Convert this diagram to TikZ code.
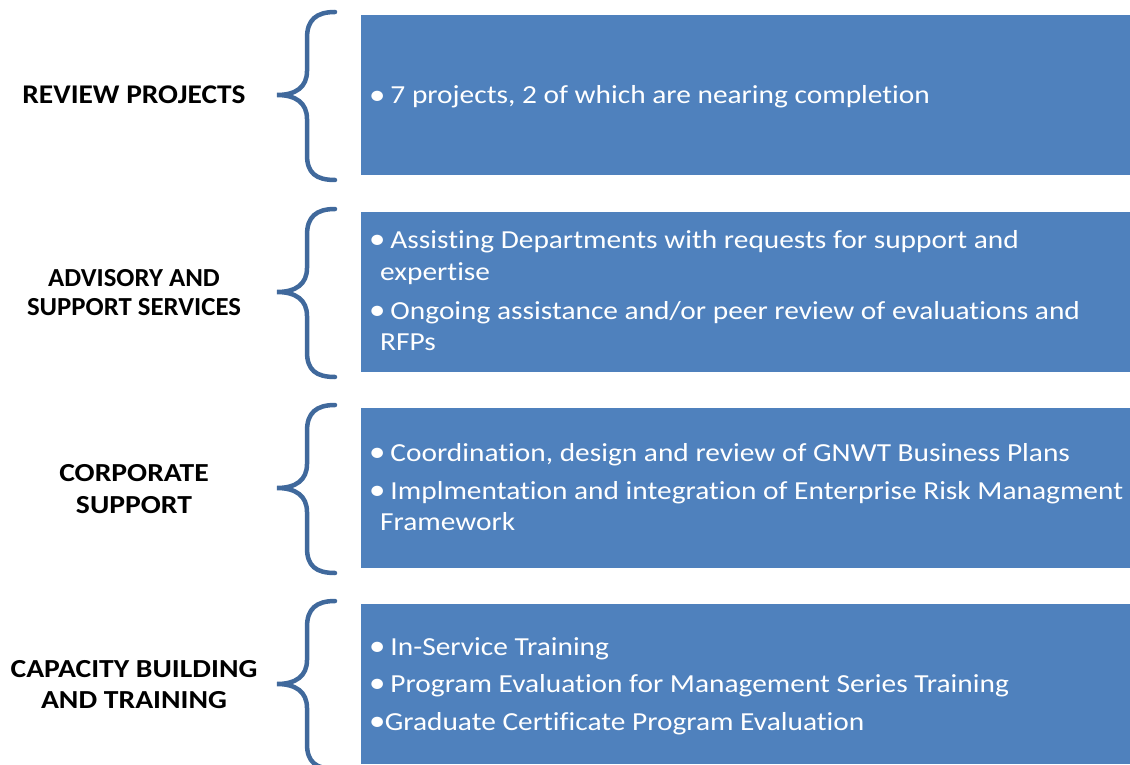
\documentclass[tikz,border=0pt]{standalone}
\usepackage{fontspec}
\setmainfont{Carlito}
\newfontfamily\bodyfont[FakeStretch=1.13,RawFeature=-liga]{Carlito}
\newfontfamily\lblfont[FakeStretch=1.14,RawFeature=-liga]{Carlito}
\newfontfamily\advlblfont[FakeStretch=1.03,RawFeature=-liga]{Carlito}
\newfontfamily\toplblfont[FakeStretch=1.09,RawFeature=-liga]{Carlito}
\newcommand{\bul}{\rlap{\raisebox{-0.6pt}{\fontsize{29}{31}\selectfont •}}\phantom{•}}
\definecolor{boxblue}{HTML}{4F81BD}
\definecolor{bracecol}{HTML}{40699C}
\begin{document}
\begin{tikzpicture}[x=1pt,y=-1pt,
  panel/.style={fill=boxblue,draw=none},
  brace/.style={draw=bracecol,line width=4.5pt,line cap=round},
  bodytxt/.style={anchor=base west,inner sep=0pt,text=white,font=\bodyfont\fontsize{26}{31}\selectfont},
  lbl/.style={anchor=base,inner sep=0pt,font=\lblfont\bfseries\fontsize{26}{31}\selectfont},
  advlbl/.style={anchor=base,inner sep=0pt,font=\advlblfont\bfseries\fontsize{26}{31}\selectfont},
  biglbl/.style={anchor=base,inner sep=0pt,font=\toplblfont\bfseries\fontsize{27}{32}\selectfont}]
\useasboundingbox (0,0) rectangle (1130,765);
% panels
\foreach \t/\n in {15/p1,212/p2,408/p3,604/p4}{
  \fill[panel] (361,\t) rectangle (1132,\t+160);
}
% braces
\foreach \c in {95,292,488,684}{
  \draw[brace] (335,\c-83) .. controls (316,\c-83) and (307,\c-75) .. (307,\c-57)
     -- (307,\c-24) .. controls (307,\c-8) and (296,\c) .. (277,\c)
     .. controls (296,\c) and (307,\c+8) .. (307,\c+24)
     -- (307,\c+60) .. controls (307,\c+78) and (316,\c+85) .. (335,\c+85);
}
% labels
\node[biglbl] (l1) at (134,104) {REVIEW PROJECTS};
\node[advlbl] (l2a) at (134,286) {ADVISORY AND};
\node[advlbl] (l2b) at (134,315) {SUPPORT SERVICES};
\node[lbl] (l3a) at (134,481) {CORPORATE};
\node[lbl] (l3b) at (134,513) {SUPPORT};
\node[lbl] (l4a) at (134,677) {CAPACITY BUILDING};
\node[lbl] (l4b) at (134,708) {AND TRAINING};
% body text
\node[bodytxt] (t1) at (369,104) {\bul{} 7 projects, 2 of which are nearing completion};
\node[bodytxt] (t2a) at (369,248) {\bul{} Assisting Departments with requests for support and};
\node[bodytxt] (t2b) at (380,280) {expertise};
\node[bodytxt] (t2c) at (369,319) {\bul{} Ongoing assistance and/or peer review of evaluations and};
\node[bodytxt] (t2d) at (380,350) {RFPs};
\node[bodytxt] (t3a) at (369,461) {\bul{} Coordination, design and review of GNWT Business Plans};
\node[bodytxt] (t3b) at (369,499) {\bul{} Implmentation and integration of Enterprise Risk Managment};
\node[bodytxt] (t3c) at (380,530) {Framework};
\node[bodytxt] (t4a) at (369,655) {\bul{} In-Service Training};
\node[bodytxt] (t4b) at (369,692) {\bul{} Program Evaluation for Management Series Training};
\node[bodytxt] (t4c) at (369,730) {\bul{}\kern1pt Graduate Certificate Program Evaluation};
\end{tikzpicture}
\end{document}
